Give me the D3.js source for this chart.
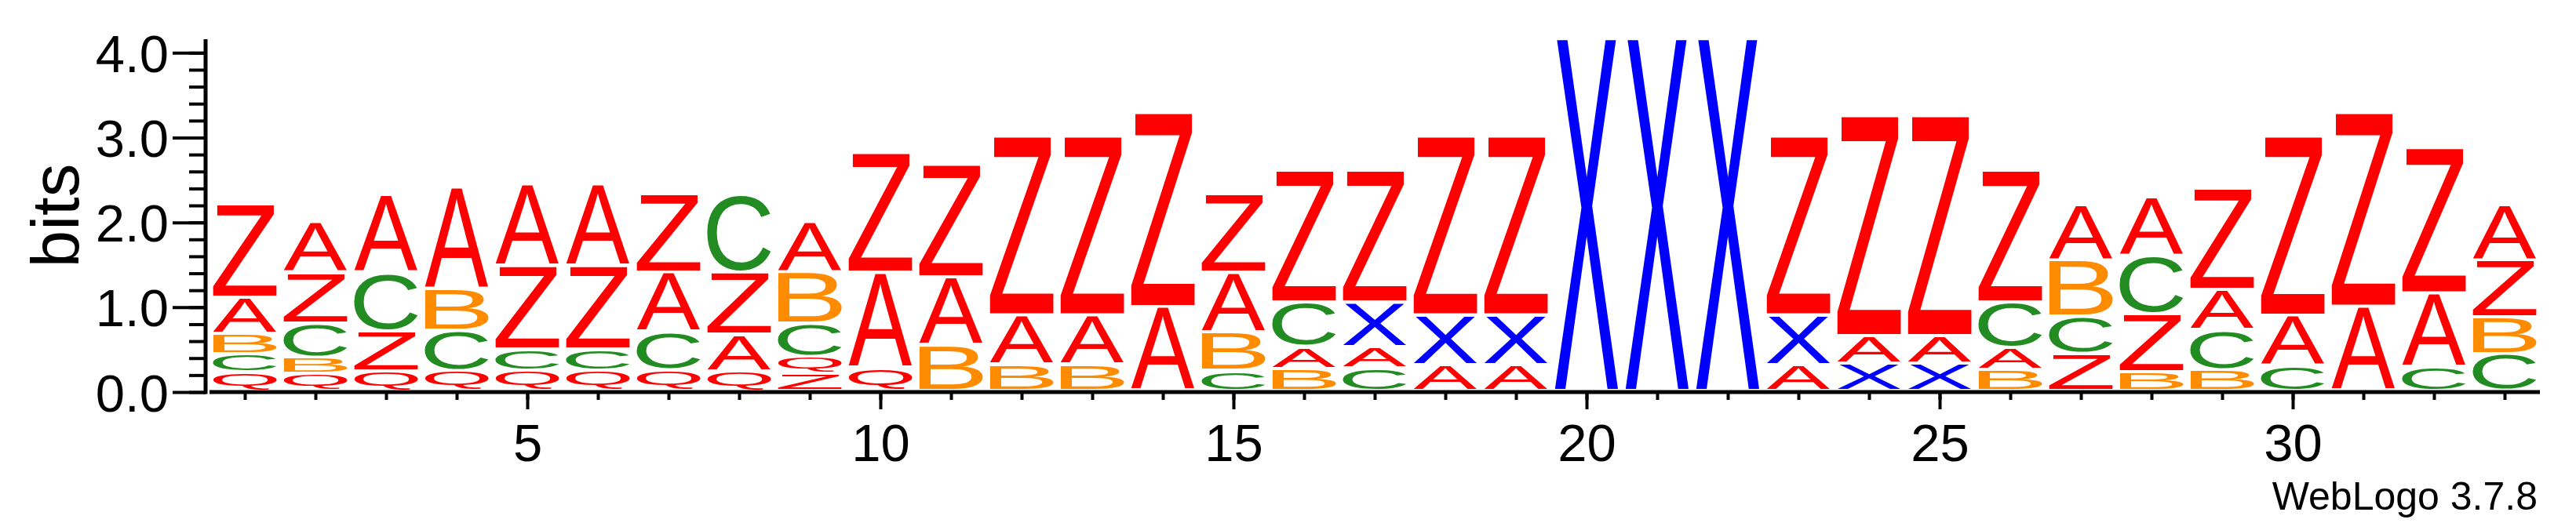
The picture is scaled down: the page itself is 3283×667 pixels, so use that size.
<!DOCTYPE html>
<html><head><meta charset="utf-8">
<script src="https://cdn.jsdelivr.net/npm/d3@7"></script>
<style>html,body{margin:0;padding:0;background:#fff;} svg{display:block;}</style>
</head><body>
<svg id="chart" width="3283" height="667"></svg>
<script>
// ---- data ----
const positions = d3.range(1, 34);
const seriesA = [0.429,0.601,0.925,1.203,0.971,0.971,0.700,0.432,0.595,1.126,0.802,0.585,0.585,0.990,0.701,0.255,0.248,0.309,0.309,0,0,0,0.308,0.324,0.324,0.262,0.653,0.687,0.481,0.595,0.993,0.872,0.653];
const seriesB = [0.237,0.191,0,0.481,0,0,0,0,0.599,0,0.539,0.308,0.308,0,0.455,0.261,0,0,0,0,0,0,0,0,0,0.247,0.663,0.225,0.247,0,0,0,0.435];
const seriesC = [0.213,0.404,0.687,0.477,0.247,0.247,0.453,0.919,0.395,0,0,0,0,0,0.236,0.525,0.268,0,0,0,0,0,0,0,0,0.534,0.441,0.679,0.468,0.293,0,0.278,0.438];
const seriesQ = [0.222,0.201,0.231,0.238,0.241,0.241,0.241,0.231,0.200,0.271,0,0,0,0,0,0,0,0,0,0,0,0,0,0,0,0,0,0,0,0,0,0,0];
const seriesX = [0,0,0,0,0,0,0,0,0,0,0,0,0,0,0,0,0.525,0.583,0.583,4.16,4.16,4.16,0.585,0.324,0.324,0,0,0,0,0,0,0,0];
const seriesZ = [1.105,0.592,0.469,0,0.986,0.986,0.919,0.731,0.201,1.409,1.332,2.114,2.114,2.294,0.920,1.551,1.551,2.115,2.115,0,0,0,2.114,2.600,2.600,1.548,0.438,0.685,1.200,2.118,2.291,1.718,0.670];
// stacking order, bottom to top
const stackOrder = ["QCBAZ","QBCZA","QZCA","QCBA","QCZA","QCZA","QCAZ","QAZC","ZQCBA","QAZ","BAZ","BAZ","BAZ","AZ","CBAZ","BACZ","CAXZ","AXZ","AXZ","X","X","X","AXZ","XAZ","XAZ","BACZ","ZCBA","BZCA","BCAZ","CAZ","AZ","CAZ","CBZA"];
const yTickValues = [0,1,2,3,4];
const xTickLabels = [5,10,15,20,25,30];
const maxBits = 4.16;

const series = {A:seriesA, B:seriesB, C:seriesC, Q:seriesQ, X:seriesX, Z:seriesZ};
const colors = {A:"#ff0000", Z:"#ff0000", Q:"#ff0000", B:"#ff8c00", C:"#228b22", X:"#0000ff"};

const FONT = "'Liberation Sans', Arial, Helvetica, sans-serif";
const svg = d3.select("#chart");

const x = d3.scaleBand().domain(positions).range([267, 3237]).paddingInner(0.1).paddingOuter(0.05);
const xl = d3.scaleLinear().domain([0.5, 33.5]).range([267, 3237]);
const y = d3.scaleLinear().domain([0, maxBits]).range([500, 50]);

// glyph ink measurement
const ctx = document.createElement("canvas").getContext("2d");
const MF = 200;
ctx.font = `${MF}px ${FONT}`;
const inkCache = {};
function ink(ch){
  if(!inkCache[ch]){
    const m = ctx.measureText(ch);
    inkCache[ch] = {L:m.actualBoundingBoxLeft, R:m.actualBoundingBoxRight, A:m.actualBoundingBoxAscent, D:m.actualBoundingBoxDescent};
  }
  return inkCache[ch];
}

const gap = 4;
const glyphs = [];
positions.forEach((p, i) => {
  let cum = 0;
  for (const ch of stackOrder[i]) {
    const h = series[ch][i];
    if (h > 0) {
      glyphs.push({ch, p, top: y(cum + h), bot: y(cum) - gap});
      cum += h;
    }
  }
});

svg.append("g").selectAll("text").data(glyphs).join("text")
  .text(d => d.ch)
  .attr("font-family", FONT)
  .attr("font-size", MF)
  .attr("fill", d => colors[d.ch])
  .attr("transform", d => {
    const g = ink(d.ch);
    const w = x.bandwidth();
    const hgt = Math.max(1, d.bot - d.top);
    const sx = w / (g.L + g.R), sy = hgt / (g.A + g.D);
    return `translate(${x(d.p) + g.L * sx},${d.top + g.A * sy}) scale(${sx},${sy})`;
  });

// y axis
const yMinor = svg.append("g").attr("transform", "translate(262,0)")
  .call(d3.axisLeft(y).tickValues(d3.range(0, 4.01, 0.2)).tickSize(21).tickFormat(""));
const yMajor = svg.append("g").attr("transform", "translate(262,0)")
  .call(d3.axisLeft(y).tickValues(yTickValues).tickSize(42).tickPadding(5).tickFormat(d3.format(".1f")));
[yMinor, yMajor].forEach(g => {
  g.select(".domain").remove();
  g.selectAll(".tick line").attr("stroke", "#000").attr("stroke-width", 4);
});
yMajor.selectAll(".tick text").attr("font-family", FONT).attr("font-size", 67).attr("fill", "#000").attr("dy", "0.36em");
svg.append("line").attr("x1", 262).attr("x2", 262).attr("y1", y(maxBits)).attr("y2", 502.5)
  .attr("stroke", "#000").attr("stroke-width", 5);

// x axis
const xMinor = svg.append("g").attr("transform", "translate(0,500)")
  .call(d3.axisBottom(xl).tickValues(positions).tickSize(10).tickFormat(""));
const xMajor = svg.append("g").attr("transform", "translate(0,500)")
  .call(d3.axisBottom(xl).tickValues(xTickLabels).tickSize(22).tickPadding(18).tickFormat(d3.format("d")));
[xMinor, xMajor].forEach(g => {
  g.select(".domain").remove();
  g.selectAll(".tick line").attr("stroke", "#000").attr("stroke-width", 4);
});
xMajor.selectAll(".tick text").attr("font-family", FONT).attr("font-size", 67).attr("fill", "#000");
svg.append("line").attr("x1", xl(0.5)).attr("x2", xl(33.5)).attr("y1", 500).attr("y2", 500)
  .attr("stroke", "#000").attr("stroke-width", 5);

// labels
svg.append("text").text("bits")
  .attr("transform", "translate(100,275) rotate(-90)")
  .attr("text-anchor", "middle").attr("font-family", FONT).attr("font-size", 85).attr("fill", "#000");
svg.append("text").text("WebLogo 3.7.8")
  .attr("x", 3234).attr("y", 650).attr("text-anchor", "end")
  .attr("font-family", FONT).attr("font-size", 50).attr("fill", "#000");
</script>
</body></html>
